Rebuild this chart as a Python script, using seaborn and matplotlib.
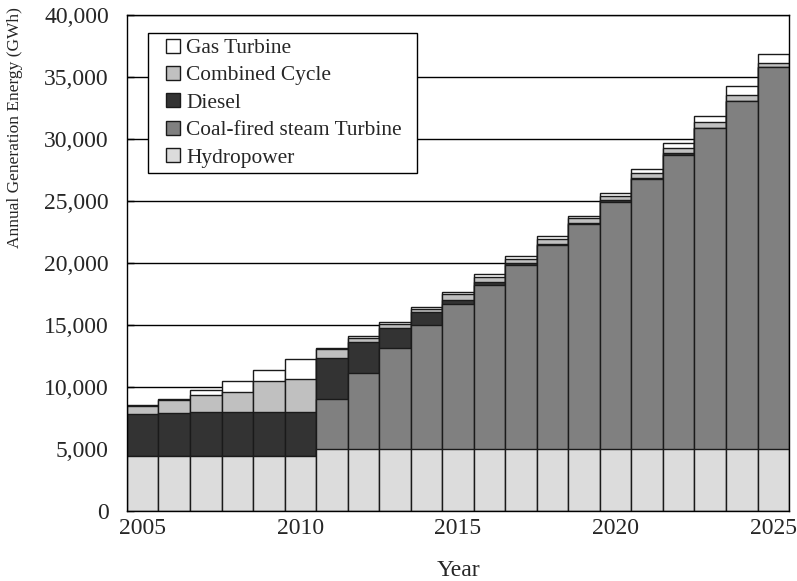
import matplotlib
matplotlib.use("Agg")
import matplotlib.pyplot as plt
import seaborn as sns
import numpy as np
import pandas as pd
from matplotlib.ticker import FuncFormatter
from matplotlib.lines import Line2D

# Annual generation energy by plant type (GWh)
years = list(range(2005, 2026))
hydropower = [4400, 4400, 4400, 4400, 4400, 4400,
              5000, 5000, 5000, 5000, 5000, 5000, 5000, 5000, 5000, 5000,
              5000, 5000, 5000, 5000, 5000]
coal_steam = [0, 0, 0, 0, 0, 0,
              4030, 6160, 8120, 9970, 11670, 13230, 14840, 16450, 18150,
              19950, 21770, 23710, 25860, 28060, 30780]
diesel = [3400, 3500, 3580, 3580, 3580, 3580,
          3280, 2470, 1610, 1080, 350, 270, 190, 100, 110,
          100, 100, 130, 30, 30, 0]
combined_cycle = [670, 1020, 1370, 1610, 2530, 2690,
                  730, 350, 350, 250, 460, 350, 270, 410, 350,
                  360, 410, 460, 500, 460, 350]
gas_turbine = [80, 130, 400, 890, 830, 1560,
               80, 160, 135, 125, 215, 240, 270, 190, 190,
               215, 270, 400, 455, 730, 700]

series_names = ["Hydropower", "Coal-fired steam Turbine", "Diesel",
                "Combined Cycle", "Gas Turbine"]
series_values = [hydropower, coal_steam, diesel, combined_cycle, gas_turbine]
series_colors = ["#dcdcdc", "#808080", "#333333", "#c0c0c0", "#ffffff"]
tick_years = [2005, 2010, 2015, 2020, 2025]

df = pd.DataFrame({"Year": [str(y) for y in years]})
running = np.zeros(len(years))
for name, vals in zip(series_names, series_values):
    running = running + np.array(vals, dtype=float)
    df[name] = running

sns.set_style("white")
plt.rcParams["font.family"] = ["Liberation Serif", "DejaVu Serif"]

fig = plt.figure(figsize=(7.97, 5.81), dpi=100)
ax = fig.add_axes([0.1593, 0.1205, 0.8307, 0.8537])

# stacked bars: draw cumulative totals from the top layer down
for name, color in reversed(list(zip(series_names, series_colors))):
    sns.barplot(data=df, x="Year", y=name, color=color, saturation=1,
                width=1.0, edgecolor="#1a1a1a", linewidth=1.0,
                ax=ax, zorder=2)

ax.set_xlim(-0.5, len(years) - 0.5)
ax.set_ylim(0, 40000)
ax.set_yticks(np.arange(0, 40001, 5000))
ax.yaxis.set_major_formatter(FuncFormatter(lambda v, p: f"{int(v):,}"))
ax.set_xticks([years.index(y) for y in tick_years])
ax.set_xticklabels([str(y) for y in tick_years])

ax.set_axisbelow(True)
ax.yaxis.grid(True, color="black", linewidth=1.0)
ax.xaxis.grid(False)
for s in ax.spines.values():
    s.set_color("black")
    s.set_linewidth(1.0)
    s.set_visible(True)

ax.tick_params(axis="y", direction="in", length=5, width=1, color="black",
               pad=13, labelsize=17, left=True)
ax.tick_params(axis="x", length=0, pad=5, labelsize=17)

ax.set_xlabel("Year", fontsize=17, labelpad=15)
ax.set_ylabel("Annual Generation Energy (GWh)", fontsize=12.5)
ax.yaxis.set_label_coords(-0.157, 0.774)

# legend with small square swatches, top layer listed first
handles = [Line2D([], [], linestyle="none", marker="s", markersize=9.4,
                  markerfacecolor=c, markeredgecolor="#1a1a1a",
                  markeredgewidth=1.0)
           for c in reversed(series_colors)]
labels = list(reversed(series_names))
ax_w = 0.8307 * 797
ax_h = 0.8537 * 581
x0 = (148 - 127) / ax_w
w = (417 - 148) / ax_w
y_top = (511 - 33) / ax_h
leg = ax.legend(handles, labels, loc="upper left",
                bbox_to_anchor=(x0, y_top - 0.4, w, 0.4), mode="expand",
                fontsize=15.4, frameon=True, fancybox=False,
                edgecolor="black", framealpha=1, borderpad=0.25,
                labelspacing=0.38, handlelength=1.8, handleheight=0.6,
                handletextpad=-0.27, borderaxespad=0)
leg.get_frame().set_linewidth(1.0)

fig.savefig("out.png", dpi=100)
